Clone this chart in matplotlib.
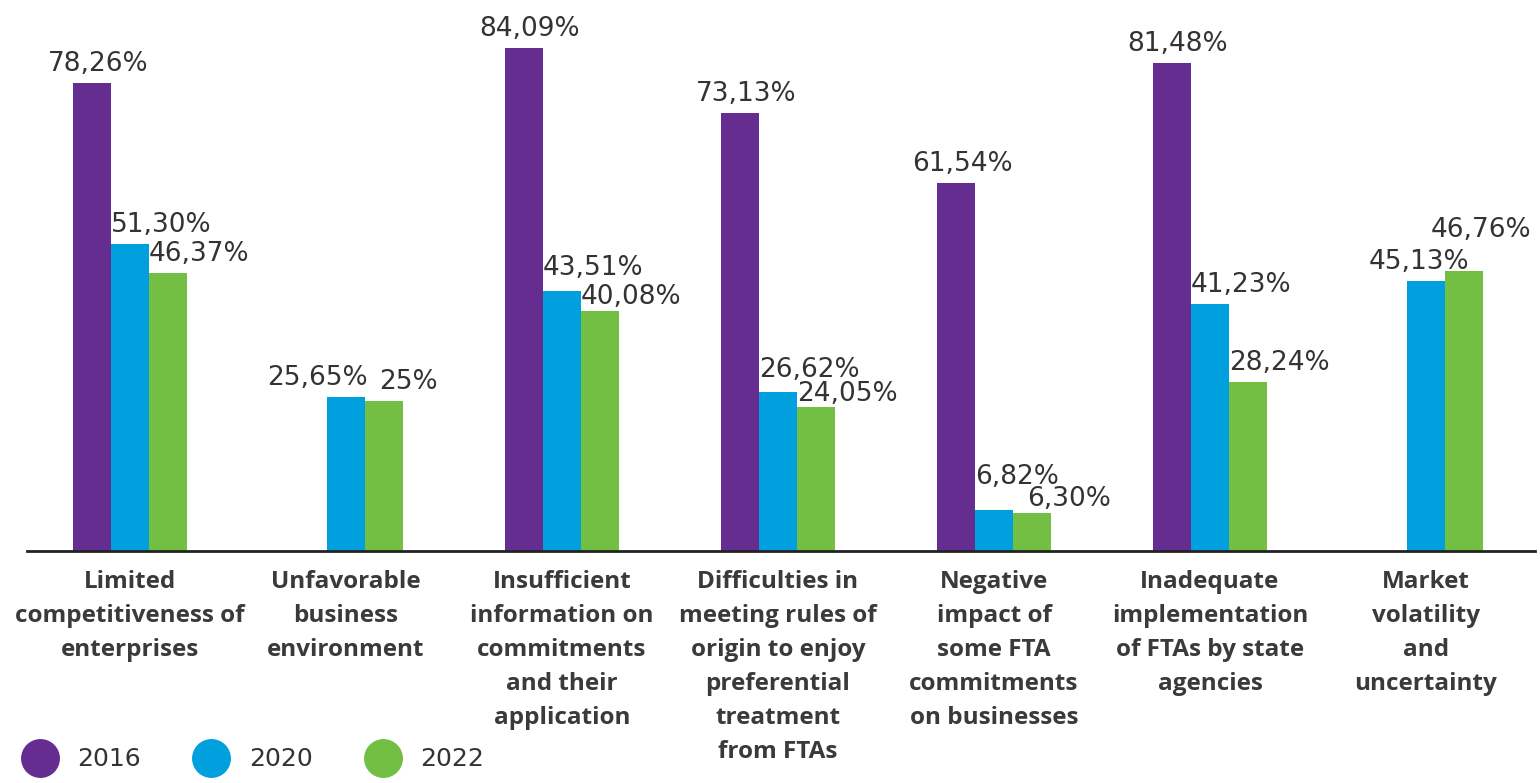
import numpy as np
import matplotlib
matplotlib.use("Agg")
import matplotlib.pyplot as plt
from matplotlib.lines import Line2D

# Data
categories = [
    "Limited\ncompetitiveness of\nenterprises",
    "Unfavorable\nbusiness\nenvironment",
    "Insufficient\ninformation on\ncommitments\nand their\napplication",
    "Difficulties in\nmeeting rules of\norigin to enjoy\npreferential\ntreatment\nfrom FTAs",
    "Negative\nimpact of\nsome FTA\ncommitments\non businesses",
    "Inadequate\nimplementation\nof FTAs by state\nagencies",
    "Market\nvolatility\nand\nuncertainty",
]
years = ["2016", "2020", "2022"]
v2016 = [78.26, np.nan, 84.09, 73.13, 61.54, 81.48, np.nan]
v2020 = [51.30, 25.65, 43.51, 26.62, 6.82, 41.23, 45.13]
v2022 = [46.37, 25.00, 40.08, 24.05, 6.30, 28.24, 46.76]
labels2016 = ["78,26%", "", "84,09%", "73,13%", "61,54%", "81,48%", ""]
labels2020 = ["51,30%", "25,65%", "43,51%", "26,62%", "6,82%", "41,23%", "45,13%"]
labels2022 = ["46,37%", "25%", "40,08%", "24,05%", "6,30%", "28,24%", "46,76%"]

colors = ["#662D91", "#00A0DF", "#72BF44"]
txt_color = "#333333"

# label nudges in pixels (series index, category index): (dx, dy)
nudge = {(1, 1): (-60, 0), (2, 1): (14, 0),
         (1, 2): (0, 4), (2, 2): (0, -5),
         (1, 3): (0, 3), (2, 3): (0, -6),
         (1, 4): (0, 14), (2, 4): (14, -5),
         (1, 6): (-38, 0), (2, 6): (-14, 22)}

fig = plt.figure(figsize=(15.4, 7.83), dpi=100)
ax = fig.add_axes([0.0175, 0.2963, 0.9793, 0.6727])

x = np.arange(len(categories))
w = 0.176
series = [v2016, v2020, v2022]
labels = [labels2016, labels2020, labels2022]
offsets = [-w, 0, w]

for i, (vals, labs) in enumerate(zip(series, labels)):
    vals = np.array(vals, dtype=float)
    ok = ~np.isnan(vals)
    ax.bar(x[ok] + offsets[i], vals[ok], width=w, color=colors[i], linewidth=0)
    for j in np.where(ok)[0]:
        dx, dy = nudge.get((i, j), (0, 0))
        if i == 0:
            xy = (x[j] + offsets[i], vals[j])
            ha = "center"
            dx += 6
        else:
            xy = (x[j] + offsets[i] - w / 2, vals[j])
            ha = "left"
        ax.annotate(labs[j], xy=xy, xytext=(dx * 0.72, (dy + 6) * 0.72),
                    textcoords="offset points", ha=ha, va="bottom",
                    fontsize=19, color=txt_color, family="DejaVu Sans")

ax.set_xlim(-0.477, 6.505)
ax.set_ylim(0, 88)
ax.set_yticks([])
for s in ["top", "right", "left"]:
    ax.spines[s].set_visible(False)
ax.spines["bottom"].set_linewidth(2)
ax.spines["bottom"].set_color("#222222")

ax.set_xticks(x)
ax.set_xticklabels(categories, fontsize=17.5, fontweight="bold",
                   family="Open Sans", color="#3a3a3a", linespacing=1.55)
ax.tick_params(axis="x", length=0, pad=14)

handles = [Line2D([], [], marker="o", ls="", markersize=27, color=c) for c in colors]
fig.legend(handles, years, loc="lower left", bbox_to_anchor=(0.0, -0.014),
           ncol=3, frameon=False, fontsize=18, handletextpad=0.8,
           columnspacing=2.1, handlelength=1.4, labelcolor=txt_color)

fig.savefig("out.png", dpi=100)
